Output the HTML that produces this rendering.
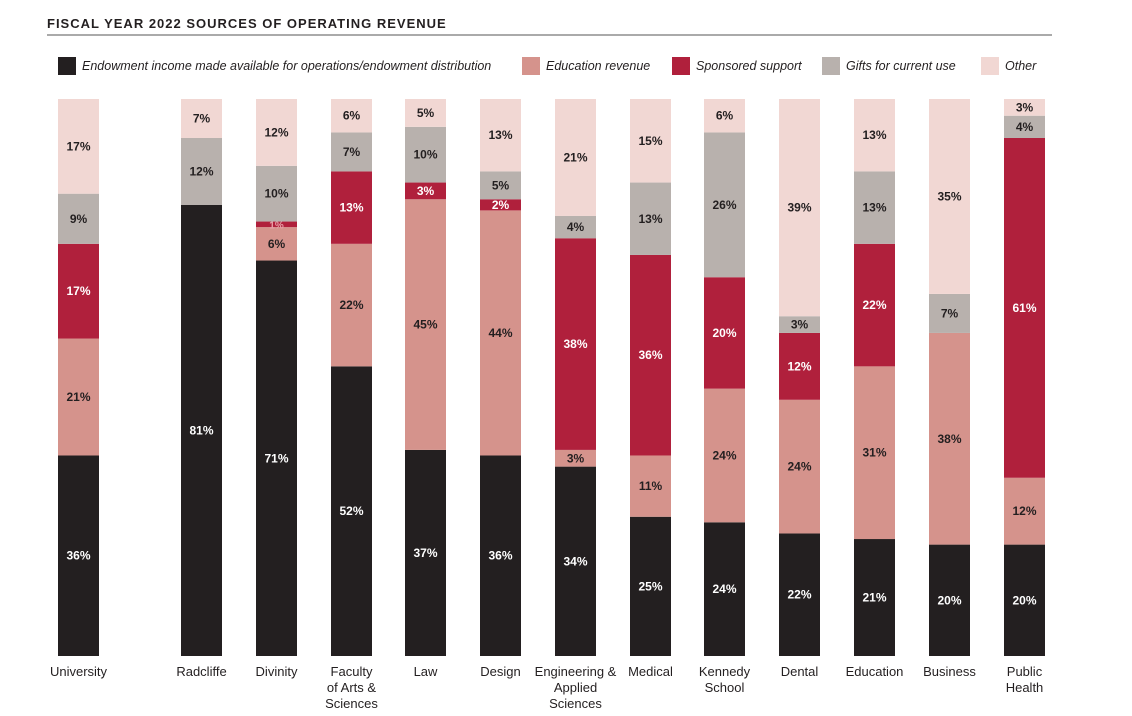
<!DOCTYPE html>
<html><head><meta charset="utf-8"><style>
body{margin:0;background:#fff;}
svg{display:block;font-family:"Liberation Sans",sans-serif;}
</style></head><body>
<svg id="chart" width="1132" height="716" viewBox="0 0 1132 716">
<text x="47" y="28" font-size="13" font-weight="bold" letter-spacing="1" fill="#231f20">FISCAL YEAR 2022 SOURCES OF OPERATING REVENUE</text>
<line x1="47" y1="35" x2="1052" y2="35" stroke="#555" stroke-width="1"/>
<g id="legend"></g>
<g id="bars"></g>
<g id="xlabels"></g>
</svg>
<script>
const categories=[["University"],["Radcliffe"],["Divinity"],["Faculty","of Arts &","Sciences"],["Law"],["Design"],["Engineering &","Applied","Sciences"],["Medical"],["Kennedy","School"],["Dental"],["Education"],["Business"],["Public","Health"]];
const endowment=[36,81,71,52,37,36,34,25,24,22,21,20,20];
const education=[21,0,6,22,45,44,3,11,24,24,31,38,12];
const sponsored=[17,0,1,13,3,2,38,36,20,12,22,0,61];
const gifts=[9,12,10,7,10,5,4,13,26,3,13,7,4];
const other=[17,7,12,6,5,13,21,15,6,39,13,35,3];
const seriesNames=["Endowment income made available for operations/endowment distribution","Education revenue","Sponsored support","Gifts for current use","Other"];
const series=[endowment,education,sponsored,gifts,other];
const colors=["#231f20","#d5938c","#b0203c","#b8b1ad","#f1d7d3"];
const textColors=["#fff","#231f20","#fff","#231f20","#231f20"];
const NS="http://www.w3.org/2000/svg";
function mk(t,a,p){const e=document.createElementNS(NS,t);for(const k in a)e.setAttribute(k,a[k]);p.appendChild(e);return e;}
const barX=[58,181,256,331,405,480,555,630,704,779,854,929,1004];
const barW=41,barTop=99,barBottom=656;
function yScale(v){return barBottom-(v/100)*(barBottom-barTop);}
const legX=[58,522,672,822,981];
const lg=document.getElementById('legend');
seriesNames.forEach((n,i)=>{
 const r=mk('rect',{x:legX[i],y:57,width:18,height:18,fill:colors[i]},lg);
 
 
 const t=mk('text',{x:legX[i]+24,y:70,'font-size':12.5,'font-style':'italic',fill:'#231f20'},lg);
 t.textContent=n;
 
 
});
const bg=document.getElementById('bars');
const xl=document.getElementById('xlabels');
categories.forEach((c,ci)=>{
 const x=barX[ci];
 const total=series.reduce((s,a)=>s+a[ci],0);
 let cum=0;
 series.forEach((arr,si)=>{
  const v=arr[ci];
  if(v<=0)return;
  const y0=yScale(cum/total*100),y1=yScale((cum+v)/total*100);
  cum+=v;
  const r=mk('rect',{x:x,y:y1,width:barW,height:y0-y1,fill:colors[si]},bg);
  
  
  const small=(y0-y1)<10;
  const t=mk('text',{x:x+barW/2,y:(y0+y1)/2+4,'text-anchor':'middle','font-size':small?10:12,'font-weight':'bold',fill:small&&si==2?'#e8a0a8':textColors[si]},bg);
  t.textContent=v+'%';
  
  
 });
 c.forEach((line,li)=>{
  const t=mk('text',{x:x+barW/2,y:676+li*16,'text-anchor':'middle','font-size':13,fill:'#231f20'},xl);
  t.textContent=line;
  
  
 });
});
</script>
</body></html>
